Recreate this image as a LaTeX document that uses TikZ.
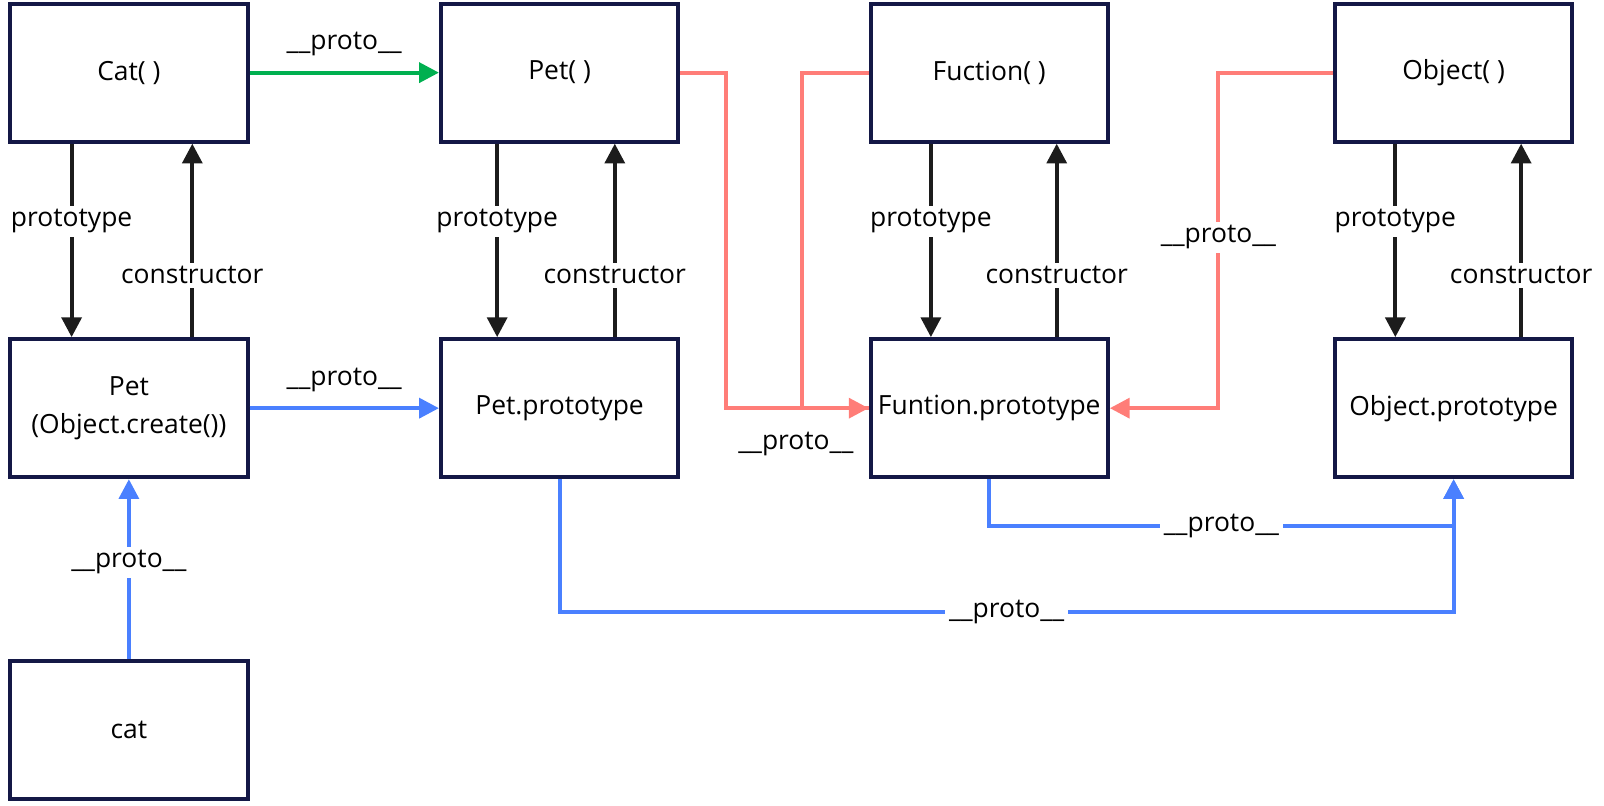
\documentclass[tikz,border=0pt]{standalone}
\usepackage{fontspec}
\setmainfont{Open Sans}
\usetikzlibrary{calc,arrows.meta}

\definecolor{navy}{RGB}{20,24,70}
\definecolor{dark}{RGB}{28,28,28}
\definecolor{pgreen}{RGB}{0,176,80}
\definecolor{pblue}{RGB}{74,128,255}
\definecolor{pred}{RGB}{255,125,120}

\begin{document}
\begin{tikzpicture}[x=0.02cm,y=-0.02cm,
  box/.style={draw=navy,line width=2.2pt,minimum width=4.64cm,minimum height=2.7cm,
    align=center,font=\fontsize{14.7}{21.5}\selectfont,inner sep=0pt},
  lab/.style={fill=white,font=\fontsize{14.7}{18}\selectfont,inner sep=2pt},
  blk/.style={draw=dark,line width=2.2pt,-{Triangle[length=11pt,width=11pt]}},
  grn/.style={draw=pgreen,line width=2.2pt,-{Triangle[length=11pt,width=11pt]}},
  blu/.style={draw=pblue,line width=2.2pt,-{Triangle[length=11pt,width=11pt]}},
  rd/.style={draw=pred,line width=2.2pt,-{Triangle[length=11pt,width=11pt]}}]

  \useasboundingbox (0,0) rectangle (1568,787);

  % top row
  \node (Cat) at (126,71) [box] {Cat( )};
  \node (Pet) at (547,71) [box] {Pet( )};
  \node (Fuc) at (967,71) [box] {Fuction( )};
  \node (Obj) at (1421,71) [box] {Object( )};

  % prototype row
  \node (Petobj) at (126,399) [box] {Pet\\(Object.create())};
  \node (Petproto) at (547,399) [box] {Pet.prototype};
  \node (Funproto) at (967,399) [box] {Funtion.prototype};
  \node (Objproto) at (1421,399) [box] {Object.prototype};

  \node (cat) at (126,714) [box] {cat};

%%% prototype / constructor pairs %%%

\foreach \up/\dn/\l/\r in {Cat/Petobj/-56/62,Pet/Petproto/-61/54,
                           Fuc/Funproto/-57/66,Obj/Objproto/-57/66} {
  \draw[blk] ($(\up.south)+(\l,0)$) -- ($(\dn.north)+(\l,0)$)
     node[lab,pos=0.4] {prototype};
  \draw[blk] ($(\dn.north)+(\r,0)$) -- ($(\up.south)+(\r,0)$)
     node[lab,pos=0.32] {constructor};
}

%%% __proto__ links %%%

\draw[grn] (Cat.east) -- (Pet.west)
   node[midway,lab,above=6pt] {\_\_proto\_\_};
\draw[blu] (Petobj.east) -- (Pet.west |- Petobj.east)
   node[midway,lab,above=6pt] {\_\_proto\_\_};
\draw[blu] (cat.north) -- (Petobj.south)
   node[lab,pos=0.54] {\_\_proto\_\_};

\draw[rd] (Pet.east) -- ++(45,0) |- (Funproto.west);
\draw[rd,-] (Fuc.west) -- ++(-65,0) |- (Funproto.west);
\draw (778,434) node [lab] {\_\_proto\_\_};
\draw[rd] (Obj.west) -- ++(-112,0) |- (Funproto.east)
   node[lab,pos=0.245] {\_\_proto\_\_};

\draw[blu] (Funproto.south) -- ++(0,46) -| (Objproto.south)
   node[lab,pos=0.25] {\_\_proto\_\_};
\draw[blu] (Petproto.south) -- ++(0,130) -| (Objproto.south)
   node[lab,pos=0.25] {\_\_proto\_\_};
\end{tikzpicture}
\end{document}
